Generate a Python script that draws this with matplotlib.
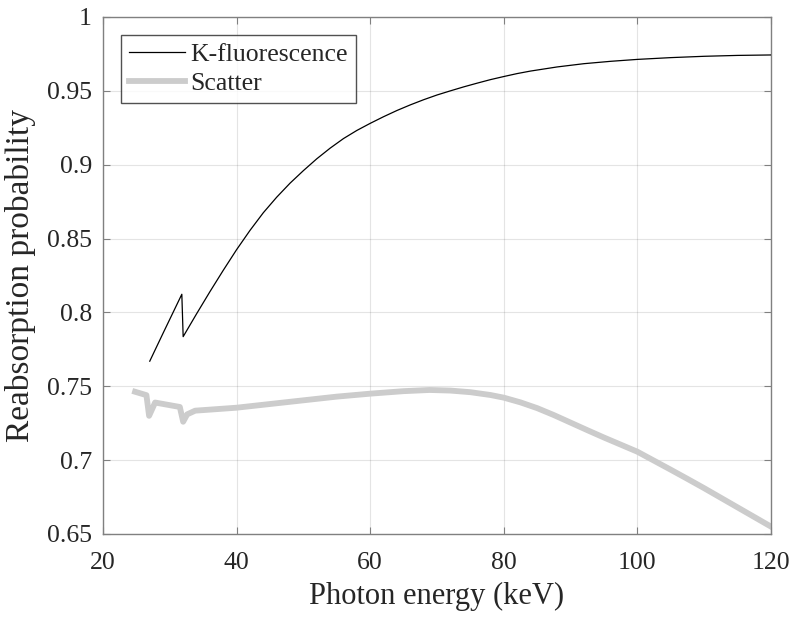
import matplotlib
matplotlib.use("Agg")
import matplotlib.pyplot as plt

# K-fluorescence reabsorption probability
kf_energy = [27.0, 29.0, 31.8, 32.0, 34.0, 36.0, 38.0, 40.0, 42.0, 44.0, 46.0, 48.0,
             50.0, 52.0, 54.0, 56.0, 58.0, 60.0, 62.0, 64.0, 66.0, 68.0, 70.0, 72.0,
             74.0, 76.0, 78.0, 80.0, 82.0, 84.0, 88.0, 92.0, 96.0, 100.0, 105.0,
             110.0, 115.0, 120.0]
kf_prob = [0.767, 0.786, 0.8123, 0.7836, 0.7990, 0.8140, 0.8285, 0.8425, 0.8555,
           0.8675, 0.8780, 0.8875, 0.8960, 0.9040, 0.9112, 0.9177, 0.9232, 0.9280,
           0.9325, 0.9367, 0.9405, 0.9440, 0.9472, 0.9500, 0.9527, 0.9552, 0.9576,
           0.9597, 0.9617, 0.9634, 0.9662, 0.9684, 0.9700, 0.9713, 0.9725, 0.9734,
           0.9740, 0.9743]

# Scatter reabsorption probability
sc_energy = [24.8, 26.5, 26.9, 27.8, 31.5, 32.0, 32.6, 33.8, 36.0, 40.0, 45.0, 50.0,
             55.0, 60.0, 65.0, 68.9, 72.0, 75.0, 78.0, 80.0, 82.5, 85.0, 87.5, 90.0,
             92.5, 95.0, 97.5, 100.0, 102.5, 105.0, 107.5, 110.0, 112.5, 115.0,
             117.5, 120.0]
sc_prob = [0.7463, 0.744, 0.730, 0.739, 0.736, 0.726, 0.731, 0.7335, 0.7342, 0.7355,
           0.7380, 0.7405, 0.7430, 0.7450, 0.7467, 0.7475, 0.7471, 0.7460, 0.7441,
           0.7423, 0.7391, 0.7352, 0.7305, 0.7254, 0.7203, 0.7153, 0.7105, 0.7057,
           0.6996, 0.6935, 0.6873, 0.6810, 0.6745, 0.6680, 0.6615, 0.6550]

xticks = [20, 40, 60, 80, 100, 120]
yticks = [0.65, 0.7, 0.75, 0.8, 0.85, 0.9, 0.95, 1.0]
ytick_labels = ["0.65", "0.7", "0.75", "0.8", "0.85", "0.9", "0.95", "1"]

plt.rcParams['font.family'] = ['Liberation Serif', 'DejaVu Serif']

fig = plt.figure(figsize=(8, 6.25), dpi=100)
ax = fig.add_axes([0.12875, 0.1456, 0.835, 0.8272])

ax.plot(kf_energy, kf_prob, color='black', lw=0.9, label='K-fluorescence', zorder=3)
ax.plot(sc_energy, sc_prob, color=(0.8, 0.8, 0.8), lw=4.2, label='Scatter',
        solid_joinstyle='round', zorder=2)

ax.set_xlim(20, 120)
ax.set_ylim(0.65, 1.0)
ax.set_xticks(xticks)
ax.set_xticklabels([str(t) for t in xticks])
ax.set_yticks(yticks)
ax.set_yticklabels(ytick_labels)

axc = (0.15, 0.15, 0.15)
for s in ax.spines.values():
    s.set_color((0.5, 0.5, 0.5))
    s.set_linewidth(1.0)
ax.tick_params(direction='in', length=5, width=0.8, colors=(0.5, 0.5, 0.5),
               labelcolor=axc, labelsize=18.5, top=True, right=True)
ax.tick_params(axis='x', pad=13)
ax.tick_params(axis='y', pad=8)
ax.grid(True, color=(0.15, 0.15, 0.15), alpha=0.12, lw=0.8)
ax.set_axisbelow(True)

ax.set_xlabel('Photon energy (keV)', fontsize=22, color=axc, labelpad=6)
ax.set_ylabel('Reabsorption probability', fontsize=24, color=axc, labelpad=8)

leg = ax.legend(loc='upper left', fontsize=18.5, frameon=True, fancybox=False,
                borderpad=0.3, handlelength=2.2, handletextpad=0.2,
                labelspacing=0.25, borderaxespad=0.7)
leg.get_frame().set_edgecolor((0.15, 0.15, 0.15))
leg.get_frame().set_linewidth(1.0)
for t in leg.get_texts():
    t.set_color(axc)

fig.savefig('out.png', dpi=100)
